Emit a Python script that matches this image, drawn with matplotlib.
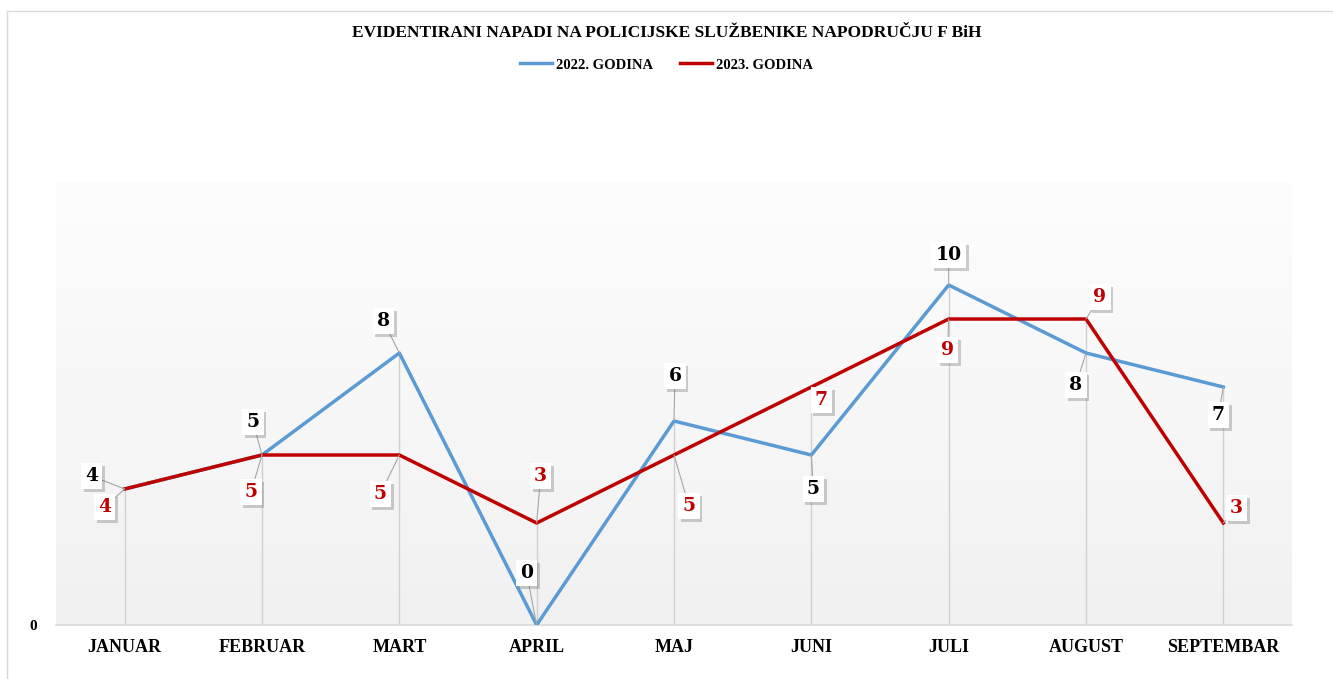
import matplotlib.pyplot as plt
import matplotlib.patheffects as pe
from matplotlib.patches import Rectangle
from matplotlib.colors import LinearSegmentedColormap
import numpy as np

months = ['JANUAR', 'FEBRUAR', 'MART', 'APRIL', 'MAJ', 'JUNI', 'JULI', 'AUGUST', 'SEPTEMBAR']
y2022 = [4, 5, 8, 0, 6, 5, 10, 8, 7]
y2023 = [4, 5, 5, 3, 5, 7, 9, 9, 3]

# label offsets in pixels (dx, dy up) for the callout boxes
off2022 = [(-33, 13), (-9, 33), (-16, 32), (-10, 52), (1, 45), (2, -34), (0, 30), (-10, -32), (-5, -28)]
off2023 = [(-20, -18), (-11, -37), (-19, -39), (4, 47), (15, -51), (10, -13), (-1, -31), (14, 22), (13, 15)]

blue = '#5b9bd5'
red = '#c00000'
serif = 'Liberation Serif'
num_font = 'DejaVu Serif'

fig = plt.figure(figsize=(13.33, 6.79), dpi=100)
ax = fig.add_axes([56/1333, 54/679, 1236/1333, 443/679])
x = np.arange(len(months))
ymax = 443/34
ax.set_xlim(-0.5, len(months) - 0.5)
ax.set_ylim(0, ymax)

# gradient background
grad = np.linspace(1, 0, 256).reshape(-1, 1)
ax.imshow(grad, extent=[-0.5, len(months) - 0.5, 0, ymax], aspect='auto',
          cmap=LinearSegmentedColormap.from_list('g', ['#f1f1f1', '#fdfdfd']),
          zorder=0, origin='upper')

# drop lines
ax.vlines(x, 0, np.maximum(y2022, y2023), color='#d0d0d0', lw=1, zorder=1)

ax.plot(x, y2022, color=blue, lw=2.5, label='2022. GODINA', zorder=3)
ax.plot(x, y2023, color=red, lw=2.5, label='2023. GODINA', zorder=3)

def labels(vals, offs, color):
    for xi, v, (dx, dy) in zip(x, vals, offs):
        t = ax.annotate(str(v), (xi, v), xytext=(dx, dy), textcoords='offset pixels',
                        ha='center', va='center', fontsize=13.5, fontweight='bold',
                        family=num_font, color=color, zorder=5, annotation_clip=False,
                        bbox=dict(boxstyle='square,pad=0.22', fc='white', ec='none'),
                        arrowprops=dict(arrowstyle='-', color='#a6a6a6', lw=0.8,
                                        shrinkA=0, shrinkB=0))
        t.get_bbox_patch().set_path_effects([
            pe.SimplePatchShadow(offset=(2, -2), shadow_rgbFace='#606060', alpha=0.3),
            pe.Normal()])

labels(y2022, off2022, 'black')
labels(y2023, off2023, red)

for s in ['left', 'right', 'top']:
    ax.spines[s].set_visible(False)
ax.spines['bottom'].set_color('#d9d9d9')
ax.spines['bottom'].set_linewidth(1.2)
ax.set_xticks(x)
ax.set_xticklabels(months, fontfamily=serif, fontweight='bold', fontsize=13)
ax.set_yticks([0])
ax.set_yticklabels(['0'], fontfamily=serif, fontweight='bold', fontsize=11)
ax.tick_params(length=0, pad=10)
ax.tick_params(axis='y', pad=14)

fig.text(0.5, 1 - 33/679, 'EVIDENTIRANI NAPADI NA POLICIJSKE SLUŽBENIKE NAPODRUČJU F BiH',
         ha='center', va='center', fontsize=12.5, fontweight='bold', family=serif)
fig.legend(loc='center', bbox_to_anchor=(0.5, 1 - 65/679), ncol=2, frameon=False,
           prop={'family': serif, 'weight': 'bold', 'size': 10.5},
           handlelength=2.2, columnspacing=1.8, handletextpad=0.3)

# chart border
fig.add_artist(Rectangle((7/1333, -0.01), 1.1, 1 - 11/679 + 0.01, transform=fig.transFigure,
                         fill=False, ec='#d9d9d9', lw=1))

fig.savefig('out.png', dpi=100)
